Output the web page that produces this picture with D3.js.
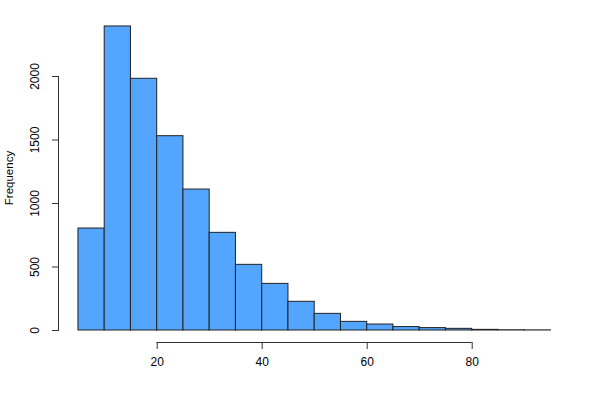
<!DOCTYPE html>
<html><head><meta charset="utf-8">
<script src="https://cdn.jsdelivr.net/npm/d3@7"></script>
<style>body{margin:0;background:#fff}svg{display:block}text{font-family:"Liberation Sans",Arial,sans-serif}</style>
</head><body>
<svg id="c" width="600" height="400"></svg>
<script>
const binStarts = [5,10,15,20,25,30,35,40,45,50,55,60,65,70,75,80,85,90];
const binWidth = 5;
const counts = [803,2394,1982,1530,1110,769,517,367,226,131,68,47,27,19,13,5,2,1];
const xTicks = [20,40,60,80];
const yTicks = [0,500,1000,1500,2000];

const svg = d3.select("#c");
const x = d3.scaleLinear().domain([0,20]).range([51.7,156.7]);
const y = d3.scaleLinear().domain([0,2000]).range([330,76]);

svg.append("g").selectAll("rect").data(binStarts).join("rect")
  .attr("x", (d)=>x(d))
  .attr("width", (d)=>x(d+binWidth)-x(d))
  .attr("y", (d,i)=>y(counts[i]))
  .attr("height", (d,i)=>y(0)-y(counts[i]))
  .attr("fill","#53a5fd").attr("stroke","#222").attr("stroke-width",1);

const xa = svg.append("g").attr("transform","translate(0,342)")
  .call(d3.axisBottom(x).tickValues(xTicks).tickSize(7).tickSizeOuter(0).tickPadding(8).tickFormat(d3.format("d")));
const ya = svg.append("g").attr("transform","translate(59,0)")
  .call(d3.axisLeft(y).tickValues(yTicks).tickSize(7).tickSizeOuter(0).tickPadding(7).tickFormat(d3.format("d")));
xa.select(".domain").attr("d", `M${x(xTicks[0])},0.5H${x(xTicks[xTicks.length-1])}`);
ya.select(".domain").attr("d", `M-0.5,${y(yTicks[0])}V${y(yTicks[yTicks.length-1])}`);
[xa,ya].forEach(a=>{
  a.select(".domain").attr("stroke","#333");
  a.selectAll(".tick line").attr("stroke","#333");
  a.selectAll("text").attr("font-size","12px").attr("fill","#000").attr("font-family","Liberation Sans, Arial, sans-serif");
});
ya.selectAll(".tick text").attr("transform","rotate(-90)")
  .attr("x",0).attr("y",-20).attr("dy","0").attr("text-anchor","middle");

svg.append("text").attr("transform","translate(13,178) rotate(-90)")
  .attr("text-anchor","middle").attr("font-size","11.5px").text("Frequency");
</script>
</body></html>
